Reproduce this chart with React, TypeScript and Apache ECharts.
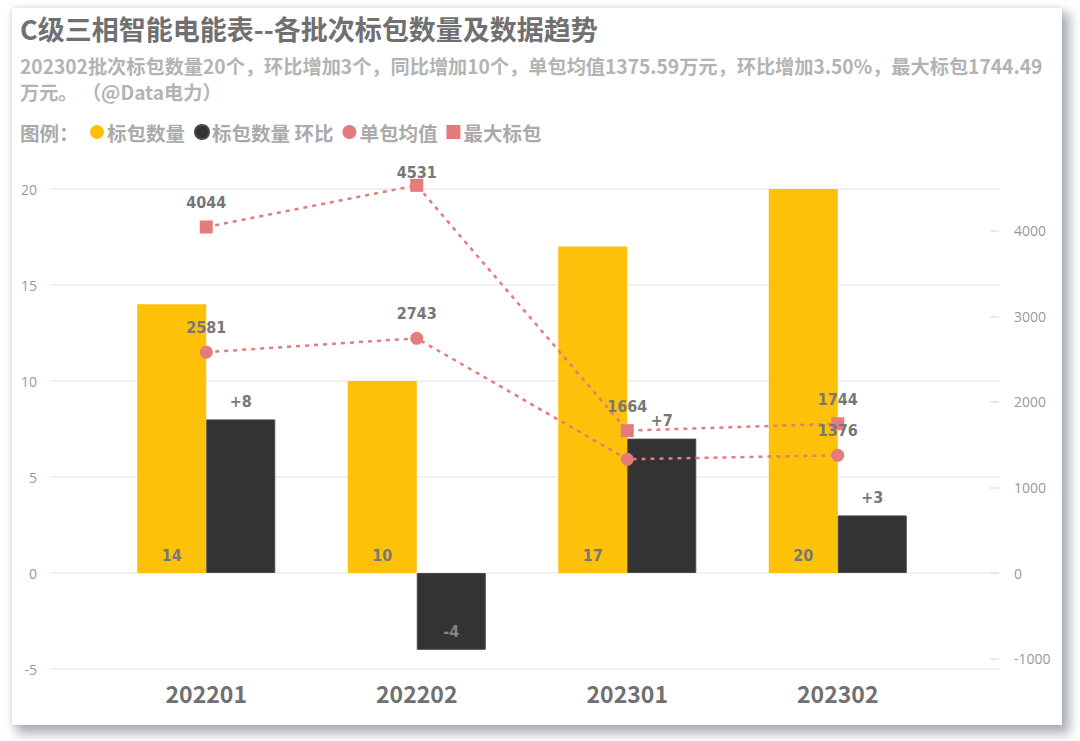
import { useEffect, useRef } from 'react'
import * as echarts from 'echarts'

const categories = ['202201', '202202', '202301', '202302']
const countData = [14, 10, 17, 20]
const changeData = [8, -4, 7, 3]
const avgData = [2581, 2743, 1329, 1376]
const avgLabelShown = [true, true, false, true]
const maxData = [4044, 4531, 1664, 1744]

const leftRange = [-5, 20]
const leftInterval = 5
const rightRange = [-1122, 4488]
const rightStep = 1000

const TITLE = 'C级三相智能电能表--各批次标包数量及数据趋势'
const SUBTITLE =
  '202302批次标包数量20个，环比增加3个，同比增加10个，单包均值1375.59万元，环比增加3.50%，最大标包1744.49\n万元。 （@Data电力）'

const CJK = '"Noto Sans CJK SC", "Noto Sans", sans-serif'
const NUM = '"DejaVu Sans Condensed", "Liberation Sans Narrow", Roboto, sans-serif'

const YELLOW = '#FDC10A'
const DARK = '#333333'
const PINK = '#E57B7B'
const LABEL = '#777777'

function App() {
  const chartRef = useRef<HTMLDivElement>(null)

  useEffect(() => {
    if (!chartRef.current) return
    const chart = echarts.init(chartRef.current, undefined, { renderer: 'svg' })

    const numLabel = { fontFamily: NUM, fontWeight: 'bold', fontSize: 16, color: LABEL }

    chart.setOption({
      animation: false,
      title: [
        {
          text: TITLE,
          left: 8,
          top: 4,
          padding: 0,
          textStyle: { fontFamily: CJK, fontSize: 27, fontWeight: 'bold', color: '#707070', lineHeight: 32 },
        },
        {
          text: SUBTITLE,
          left: 8,
          top: 45,
          padding: 0,
          textStyle: { fontFamily: CJK, fontSize: 19.2, fontWeight: 'bold', color: '#b3b3b3', lineHeight: 26 },
        },
        {
          text: '图例：',
          left: 8,
          top: 113,
          padding: 0,
          textStyle: { fontFamily: CJK, fontSize: 19.5, fontWeight: 'bold', color: '#aaaaaa', lineHeight: 22 },
        },
      ],
      legend: {
        left: 78,
        top: 113,
        padding: 0,
        itemWidth: 14,
        itemHeight: 14,
        itemGap: 9,
        textStyle: { fontFamily: CJK, fontSize: 19.5, fontWeight: 'bold', color: '#aaaaaa', lineHeight: 22, padding: [0, 0, 0, -2] },
        data: [
          { name: '标包数量', icon: 'circle' },
          { name: '标包数量 环比', icon: 'circle' },
          { name: '单包均值', icon: 'circle' },
          { name: '最大标包', icon: 'rect' },
        ],
      },
      grid: [
        { left: 38, right: 63, top: 181, bottom: 56 },
        { left: 89, right: 119, top: 181, bottom: 56 },
      ],
      xAxis: [
        { gridIndex: 0, type: 'value', show: false },
        {
          gridIndex: 1,
          type: 'category',
          data: categories,
          axisLine: { show: false },
          axisTick: { show: false },
          axisLabel: { fontFamily: CJK, fontSize: 23, fontWeight: 'bold', color: '#707070', margin: 12 },
        },
      ],
      yAxis: [
        {
          gridIndex: 0,
          type: 'value',
          min: leftRange[0],
          max: leftRange[1],
          interval: leftInterval,
          axisLine: { show: false },
          axisTick: { show: false },
          splitLine: { lineStyle: { color: '#ececec', width: 1.5 } },
          axisLabel: { fontFamily: '"Open Sans", "Noto Sans", sans-serif', fontSize: 14, color: '#999999', margin: 13 },
        },
        {
          gridIndex: 0,
          type: 'value',
          position: 'right',
          min: rightRange[0],
          max: rightRange[1],
          axisLine: { show: false },
          axisTick: { show: true, inside: true, length: 9, lineStyle: { color: '#e3e3e3', width: 1.5 } },
          splitLine: { show: false },
          axisLabel: {
            fontFamily: '"Open Sans", "Noto Sans", sans-serif',
            fontSize: 14,
            color: '#999999',
            margin: 15,
            showMinLabel: false,
            showMaxLabel: false,
            formatter: (v: number) => (v % rightStep === 0 ? String(v) : ''),
          },
        },
        { gridIndex: 1, type: 'value', min: leftRange[0], max: leftRange[1], show: false, splitLine: { show: false } },
        {
          gridIndex: 1,
          type: 'value',
          position: 'right',
          min: rightRange[0],
          max: rightRange[1],
          show: false,
          splitLine: { show: false },
        },
      ],
      series: [
        {
          name: '标包数量',
          type: 'bar',
          xAxisIndex: 1,
          yAxisIndex: 2,
          data: countData,
          barWidth: 69,
          barGap: '0%',
          itemStyle: { color: YELLOW },
          label: { show: true, position: 'insideBottom', distance: 10, ...numLabel },
        },
        {
          name: '标包数量 环比',
          type: 'bar',
          xAxisIndex: 1,
          yAxisIndex: 2,
          barWidth: 69,
          barGap: '0%',
          itemStyle: { color: DARK, borderColor: '#4a4a4a', borderWidth: 1 },
          data: changeData.map((v) => ({
            value: v,
            label: {
              show: true,
              position: v >= 0 ? 'top' : 'insideBottom',
              distance: 10,
              ...numLabel,
              color: v >= 0 ? LABEL : '#858585',
              formatter: () => (v > 0 ? '+' + v : String(v)),
            },
          })),
        },
        {
          name: '单包均值',
          type: 'line',
          xAxisIndex: 1,
          yAxisIndex: 3,
          clip: false,
          symbol: 'circle',
          symbolSize: 13,
          itemStyle: { color: PINK },
          lineStyle: { color: PINK, width: 2.5, type: [4, 5] },
          data: avgData.map((v, i) => ({ value: v, label: { show: avgLabelShown[i] } })),
          label: { show: true, position: 'top', distance: 10, ...numLabel },
          z: 5,
        },
        {
          name: '最大标包',
          type: 'line',
          xAxisIndex: 1,
          yAxisIndex: 3,
          clip: false,
          symbol: 'rect',
          symbolSize: 13,
          itemStyle: { color: PINK },
          lineStyle: { color: PINK, width: 2.5, type: [4, 5] },
          // a label whose point sits above the plot is pulled down onto its marker
          data: maxData.map((v) => ({ value: v, label: { distance: v > rightRange[1] ? -2 : 10 } })),
          label: { show: true, position: 'top', ...numLabel },
          z: 5,
        },
      ],
    })

    const onResize = () => chart.resize()
    window.addEventListener('resize', onResize)
    return () => {
      window.removeEventListener('resize', onResize)
      chart.dispose()
    }
  }, [])

  return (
    <div style={{ position: 'fixed', inset: 0, background: '#ffffff' }}>
      <div
        style={{
          position: 'absolute',
          left: 12,
          top: 8,
          width: 1050,
          height: 717,
          background: '#fff',
          boxShadow: '6px 7px 10px 2px rgba(110, 116, 130, 0.55), 0 0 5px rgba(0, 0, 0, 0.12)',
        }}
      >
        <div ref={chartRef} style={{ width: '100%', height: '100%' }} />
      </div>
    </div>
  )
}

export default App
